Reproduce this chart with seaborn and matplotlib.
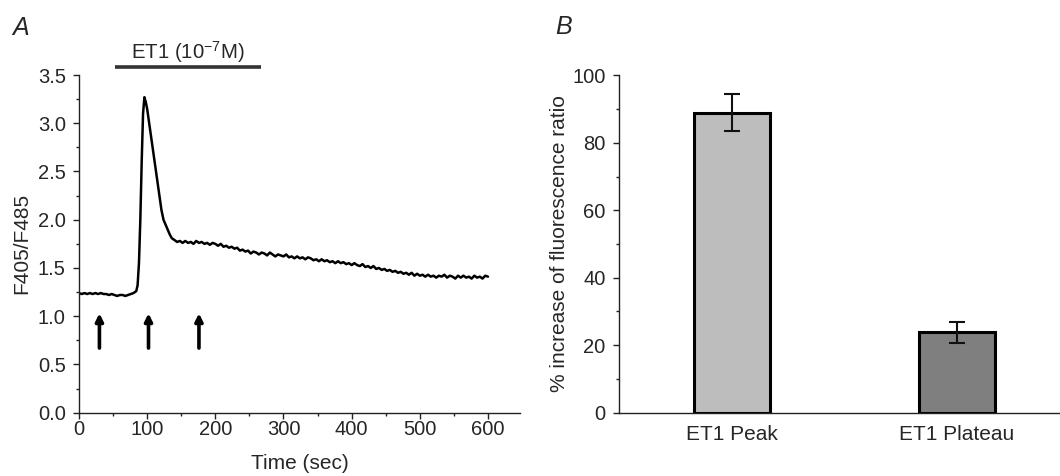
import matplotlib
matplotlib.use("Agg")
import matplotlib.pyplot as plt
import seaborn as sns
import pandas as pd
from matplotlib.ticker import MultipleLocator

# ---------------- data ----------------
time_s = [0, 4, 8, 12, 16, 20, 24, 28, 32, 36, 40, 44, 48, 52, 56, 60, 64, 68, 72, 76, 80, 84,
          86, 88, 90, 92, 94, 96, 98, 100, 103, 106, 109, 112, 115, 118, 121, 124, 127, 130, 133, 136,
          140, 144, 148, 152, 156, 160, 164, 168, 172, 176, 180, 184, 188, 192, 196, 200, 204, 208,
          212, 216, 220, 224, 228, 232, 236, 240, 244, 248, 252, 256, 260, 264, 268, 272, 276, 280,
          284, 288, 292, 296, 300, 304, 308, 312, 316, 320, 324, 328, 332, 336, 340, 344, 348, 352,
          356, 360, 364, 368, 372, 376, 380, 384, 388, 392, 396, 400, 404, 408, 412, 416, 420, 424,
          428, 432, 436, 440, 444, 448, 452, 456, 460, 464, 468, 472, 476, 480, 484, 488, 492, 496,
          500, 504, 508, 512, 516, 520, 524, 528, 532, 536, 540, 544, 548, 552, 556, 560, 564, 568,
          572, 576, 580, 584, 588, 592, 596, 600]
ratio = [1.24, 1.23, 1.24, 1.23, 1.24, 1.23, 1.24, 1.23, 1.24, 1.23, 1.23, 1.22, 1.23, 1.22, 1.21, 1.22, 1.22, 1.21, 1.22, 1.23, 1.24, 1.26,
         1.32, 1.55, 2.00, 2.60, 3.10, 3.27, 3.22, 3.15, 3.00, 2.85, 2.70, 2.55, 2.40, 2.25, 2.10, 2.00, 1.95, 1.90, 1.85, 1.81,
         1.79, 1.77, 1.78, 1.76, 1.78, 1.76, 1.77, 1.75, 1.78, 1.76, 1.77, 1.75, 1.76, 1.74, 1.76, 1.75, 1.73, 1.75,
         1.72, 1.73, 1.71, 1.72, 1.70, 1.71, 1.68, 1.69, 1.67, 1.68, 1.65, 1.67, 1.66, 1.64, 1.66, 1.65, 1.63, 1.66,
         1.64, 1.62, 1.64, 1.63, 1.62, 1.64, 1.61, 1.62, 1.60, 1.62, 1.60, 1.61, 1.59, 1.61, 1.60, 1.58, 1.59, 1.57,
         1.59, 1.57, 1.58, 1.56, 1.57, 1.55, 1.57, 1.55, 1.56, 1.54, 1.55, 1.53, 1.55, 1.53, 1.52, 1.54, 1.51, 1.52,
         1.50, 1.52, 1.49, 1.50, 1.48, 1.49, 1.47, 1.48, 1.46, 1.47, 1.45, 1.46, 1.44, 1.45, 1.43, 1.45, 1.42, 1.44,
         1.42, 1.43, 1.41, 1.43, 1.41, 1.42, 1.40, 1.42, 1.41, 1.43, 1.40, 1.42, 1.41, 1.39, 1.42, 1.40, 1.42, 1.40,
         1.41, 1.39, 1.42, 1.40, 1.41, 1.39, 1.42, 1.41]
arrow_times = [30, 102, 176]
et1_start, et1_end = 53, 267
et1_label = "ET1 (10$^{-7}$M)"

categories = ["ET1 Peak", "ET1 Plateau"]
means = [88.9, 23.8]
sems = [5.5, 3.1]
bar_colors = ["#bdbdbd", "#7f7f7f"]

# ---------------- style ----------------
sns.set_style("ticks")
plt.rcParams["font.family"] = ["Liberation Sans", "DejaVu Sans"]
plt.rcParams["mathtext.fontset"] = "custom"
plt.rcParams["mathtext.rm"] = "Liberation Sans"
plt.rcParams["axes.edgecolor"] = "#222222"
plt.rcParams["axes.linewidth"] = 1.0
TICK_FS = 14.5
LAB_FS = 15

fig = plt.figure(figsize=(10.6, 4.76), dpi=100)
axA = fig.add_axes([0.0745, 0.133, 0.4161, 0.7094])
axB = fig.add_axes([0.5837, 0.133, 0.4163, 0.7088])

# ---------------- panel A ----------------
dfA = pd.DataFrame({"t": time_s, "r": ratio})
sns.lineplot(data=dfA, x="t", y="r", ax=axA, color="black", linewidth=1.8,
             estimator=None, errorbar=None)
axA.set_xlim(0, 647)
axA.set_ylim(0, 3.5)
axA.xaxis.set_major_locator(MultipleLocator(100))
axA.xaxis.set_minor_locator(MultipleLocator(50))
axA.yaxis.set_major_locator(MultipleLocator(0.5))
axA.yaxis.set_minor_locator(MultipleLocator(0.25))
axA.tick_params(axis="both", which="major", direction="out", length=4, width=1,
                labelsize=TICK_FS, color="#222222")
axA.tick_params(axis="both", which="minor", direction="out", length=2.5, width=1,
                color="#222222")
axA.tick_params(axis="x", pad=1)
axA.tick_params(axis="y", pad=5.5)
axA.set_xlabel("Time (sec)", fontsize=LAB_FS, labelpad=11)
axA.set_ylabel("F405/F485", fontsize=LAB_FS, labelpad=5)
sns.despine(ax=axA)

for t in arrow_times:
    axA.annotate("", xy=(t, 1.03), xytext=(t, 0.67),
                 arrowprops=dict(arrowstyle="-|>", lw=2.6, color="black",
                                 mutation_scale=11, shrinkA=0, shrinkB=0))

axA.plot([et1_start, et1_end], [3.58, 3.58], color="#333333", lw=2.6,
         clip_on=False, solid_capstyle="butt")
axA.text((et1_start + et1_end) / 2, 3.74, et1_label, ha="center", va="center",
         fontsize=LAB_FS - 0.3, clip_on=False)

# ---------------- panel B ----------------
dfB = pd.DataFrame({"cat": categories, "val": means})
sns.barplot(data=dfB, x="cat", y="val", hue="cat", palette=bar_colors, legend=False,
            edgecolor="black", linewidth=2.2, width=0.34, errorbar=None, ax=axB)
axB.errorbar(range(len(categories)), means, yerr=sems, fmt="none", ecolor="#111111",
             elinewidth=1.5, capsize=5.5, capthick=1.5)
axB.set_xlim(-0.505, 1.46)
axB.set_ylim(0, 100)
axB.yaxis.set_major_locator(MultipleLocator(20))
axB.yaxis.set_minor_locator(MultipleLocator(10))
axB.tick_params(axis="y", which="major", direction="out", length=4, width=1,
                labelsize=TICK_FS, pad=5.5, color="#222222")
axB.tick_params(axis="y", which="minor", direction="out", length=2.5, width=1,
                color="#222222")
axB.tick_params(axis="x", length=0, labelsize=LAB_FS, pad=9)
axB.set_xlabel("")
axB.set_ylabel("% increase of fluorescence ratio", fontsize=LAB_FS, labelpad=2)
sns.despine(ax=axB)

fig.text(12 / 1060, 1 - 28 / 476, "A", fontsize=18, style="italic", va="center", ha="left")
fig.text(555 / 1060, 1 - 27 / 476, "B", fontsize=18, style="italic", va="center", ha="left")

fig.savefig("out.png", dpi=100)
